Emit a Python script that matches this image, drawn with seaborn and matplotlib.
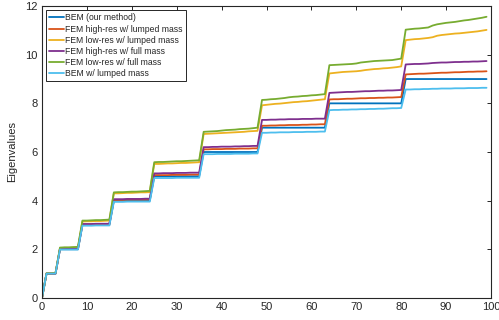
import numpy as np
import pandas as pd
import matplotlib
matplotlib.use('Agg')
import matplotlib.pyplot as plt
import seaborn as sns

# eigenvalue index (x axis)
index = list(range(100))

# series values, one row per plateau
bem = ([0.0] + [1.0] * 3 + [2.0] * 5 + [3.0] * 7 + [4.0] * 9 + [5.0] * 11
       + [6.0] * 13 + [7.0] * 15 + [8.0] * 17 + [9.0] * 19)

fem_hi_lumped = [
    0.0,
    1.00, 1.00, 1.00,
    2.01, 2.01, 2.01, 2.01, 2.01,
    3.02, 3.02, 3.02, 3.03, 3.03, 3.03, 3.03,
    4.03, 4.03, 4.03, 4.04, 4.04, 4.04, 4.04, 4.04, 4.05,
    5.05, 5.05, 5.05, 5.05, 5.06, 5.06, 5.06, 5.06, 5.07, 5.07, 5.07,
    6.11, 6.11, 6.12, 6.12, 6.12, 6.13, 6.13, 6.13, 6.14, 6.14, 6.14, 6.15, 6.15,
    7.08, 7.08, 7.09, 7.09, 7.10, 7.10, 7.11, 7.11, 7.11, 7.12, 7.12, 7.13, 7.13, 7.14, 7.14,
    8.16, 8.17, 8.17, 8.18, 8.19, 8.19, 8.20, 8.21, 8.21, 8.22, 8.22, 8.23, 8.23, 8.24, 8.24, 8.25, 8.26,
    9.19, 9.20, 9.21, 9.22, 9.22, 9.23, 9.24, 9.25, 9.26, 9.26, 9.27, 9.28, 9.28, 9.29, 9.30, 9.30, 9.31, 9.31, 9.32,
]

fem_lo_lumped = [
    0.0,
    1.01, 1.01, 1.01,
    2.05, 2.06, 2.06, 2.07, 2.07,
    3.14, 3.15, 3.15, 3.16, 3.16, 3.17, 3.18,
    4.30, 4.30, 4.31, 4.32, 4.32, 4.33, 4.34, 4.34, 4.35,
    5.51, 5.51, 5.52, 5.53, 5.53, 5.54, 5.55, 5.55, 5.56, 5.57, 5.58,
    6.74, 6.75, 6.76, 6.77, 6.78, 6.79, 6.80, 6.81, 6.82, 6.83, 6.85, 6.86, 6.87,
    7.92, 7.94, 7.96, 7.98, 7.99, 8.01, 8.03, 8.05, 8.06, 8.08, 8.09, 8.11, 8.13, 8.15, 8.17,
    9.23, 9.25, 9.27, 9.29, 9.30, 9.31, 9.32, 9.34, 9.37, 9.39, 9.41, 9.42, 9.44, 9.45, 9.47, 9.49, 9.52,
    10.60, 10.62, 10.64, 10.65, 10.67, 10.69, 10.72, 10.78, 10.81, 10.83, 10.85, 10.87, 10.88, 10.90, 10.92, 10.94, 10.96, 10.99, 11.02,
]

fem_hi_full = [
    0.0,
    1.00, 1.00, 1.00,
    2.01, 2.01, 2.02, 2.02, 2.02,
    3.04, 3.04, 3.04, 3.05, 3.05, 3.05, 3.05,
    4.06, 4.06, 4.06, 4.07, 4.07, 4.07, 4.07, 4.08, 4.08,
    5.12, 5.12, 5.13, 5.13, 5.13, 5.14, 5.14, 5.14, 5.15, 5.15, 5.15,
    6.20, 6.20, 6.21, 6.21, 6.22, 6.22, 6.22, 6.23, 6.23, 6.24, 6.24, 6.25, 6.25,
    7.32, 7.32, 7.33, 7.33, 7.34, 7.34, 7.35, 7.35, 7.35, 7.36, 7.36, 7.36, 7.37, 7.37, 7.37,
    8.43, 8.44, 8.45, 8.46, 8.47, 8.47, 8.48, 8.49, 8.50, 8.50, 8.51, 8.52, 8.52, 8.53, 8.53, 8.54, 8.55,
    9.60, 9.61, 9.62, 9.62, 9.63, 9.64, 9.66, 9.67, 9.68, 9.68, 9.69, 9.70, 9.70, 9.71, 9.71, 9.72, 9.72, 9.73, 9.74,
]

fem_lo_full = [
    0.0,
    1.01, 1.01, 1.02,
    2.07, 2.08, 2.08, 2.09, 2.10,
    3.18, 3.18, 3.19, 3.20, 3.20, 3.21, 3.22,
    4.34, 4.35, 4.35, 4.36, 4.37, 4.37, 4.38, 4.39, 4.40,
    5.58, 5.59, 5.59, 5.60, 5.61, 5.62, 5.62, 5.63, 5.64, 5.65, 5.66,
    6.83, 6.84, 6.85, 6.86, 6.88, 6.90, 6.91, 6.92, 6.94, 6.95, 6.96, 6.98, 7.00,
    8.14, 8.15, 8.17, 8.18, 8.20, 8.22, 8.25, 8.27, 8.28, 8.30, 8.31, 8.33, 8.34, 8.36, 8.38,
    9.57, 9.58, 9.59, 9.60, 9.61, 9.62, 9.64, 9.68, 9.70, 9.72, 9.74, 9.75, 9.76, 9.77, 9.78, 9.81, 9.84,
    11.03, 11.05, 11.07, 11.08, 11.10, 11.12, 11.20, 11.25, 11.28, 11.31, 11.33, 11.35, 11.38, 11.41, 11.43, 11.46, 11.49, 11.52, 11.56,
]

bem_lumped = [
    0.0,
    1.00, 1.00, 1.00,
    1.99, 1.99, 1.99, 1.99, 1.99,
    2.97, 2.97, 2.97, 2.98, 2.98, 2.98, 2.98,
    3.95, 3.95, 3.95, 3.96, 3.96, 3.96, 3.96, 3.96, 3.96,
    4.93, 4.93, 4.93, 4.93, 4.93, 4.94, 4.94, 4.94, 4.94, 4.94, 4.94,
    5.91, 5.91, 5.91, 5.92, 5.92, 5.92, 5.92, 5.93, 5.93, 5.93, 5.93, 5.94, 5.94,
    6.79, 6.79, 6.80, 6.80, 6.81, 6.81, 6.81, 6.82, 6.82, 6.82, 6.83, 6.83, 6.83, 6.84, 6.84,
    7.72, 7.73, 7.73, 7.74, 7.74, 7.75, 7.75, 7.76, 7.76, 7.77, 7.77, 7.78, 7.78, 7.79, 7.80, 7.80, 7.81,
    8.57, 8.57, 8.58, 8.58, 8.59, 8.59, 8.60, 8.60, 8.61, 8.61, 8.61, 8.62, 8.62, 8.62, 8.63, 8.63, 8.63, 8.64, 8.64,
]

methods = ['BEM (our method)', 'FEM high-res w/ lumped mass', 'FEM low-res w/ lumped mass',
           'FEM high-res w/ full mass', 'FEM low-res w/ full mass', 'BEM w/ lumped mass']
series = [bem, fem_hi_lumped, fem_lo_lumped, fem_hi_full, fem_lo_full, bem_lumped]
colors = ['#0072BD', '#D95319', '#EDB120', '#7E2F8E', '#77AC30', '#4DBEEE']

# long format table
frames = []
for name, vals in zip(methods, series):
    frames.append(pd.DataFrame({'index': index, 'value': vals, 'method': name}))
df = pd.concat(frames, ignore_index=True)

sns.set_style('white')
plt.rcParams['font.family'] = ['Liberation Sans', 'DejaVu Sans']

fig = plt.figure(figsize=(4.99, 3.2), dpi=100)
ax = fig.add_axes([0.0842, 0.069, 0.8998, 0.912])

sns.lineplot(data=df, x='index', y='value', hue='method', hue_order=methods,
             palette=colors, linewidth=1.3, ax=ax)

ax.set_xlim(0, 100)
ax.set_ylim(0, 12)
ax.set_xticks(range(0, 101, 10))
ax.set_yticks(range(0, 13, 2))
ax.set_xlabel('')
ax.set_ylabel('Eigenvalues', fontsize=8, color='#262626', labelpad=6)
ax.tick_params(direction='in', top=True, right=True, length=3, width=0.7,
               labelsize=8, colors='#262626', pad=3)
for sp in ax.spines.values():
    sp.set_color('#262626')
    sp.set_linewidth(0.8)

# legend styled like a matlab box
handles, labels = ax.get_legend_handles_labels()
leg = ax.legend(handles, labels, loc='upper left', fontsize=6.2, frameon=True,
                fancybox=False, edgecolor='#262626', framealpha=1,
                handlelength=1.7, handletextpad=0.15, borderpad=0.35,
                labelspacing=0.25, borderaxespad=0.5)
leg.get_frame().set_linewidth(0.7)
for t in leg.get_texts():
    t.set_color('#262626')

fig.savefig('out.png', dpi=100)
